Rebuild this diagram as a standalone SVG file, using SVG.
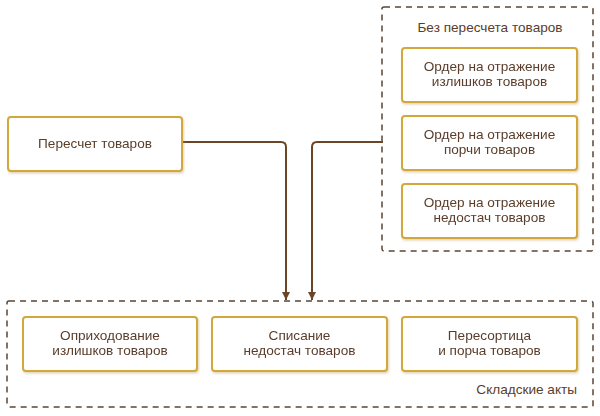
<svg xmlns="http://www.w3.org/2000/svg" width="600" height="416" viewBox="0 0 600 416">
<defs>
<style>
.node rect{fill:#fff;stroke:#d2a73a;stroke-width:2;}
.t{font-family:"Liberation Sans",Arial,sans-serif;font-size:13.6px;fill:#5a3d2b;text-anchor:middle;}
.grp{fill:none;stroke:#5a4535;stroke-width:1.5;stroke-dasharray:6 5;}
.lbl{font-family:"Liberation Sans",Arial,sans-serif;font-size:13.6px;fill:#5a3d2b;}
.conn{fill:none;stroke:#6b4526;stroke-width:2;}
</style>
<filter id="sh" x="-10%" y="-20%" width="120%" height="140%">
<feDropShadow dx="1" dy="1.5" stdDeviation="1.2" flood-color="#b89a60" flood-opacity="0.45"/>
</filter>
<marker id="ar" markerWidth="10" markerHeight="10" refX="8" refY="5" orient="auto" markerUnits="userSpaceOnUse" viewBox="0 0 10 10">
<path d="M0,1 L8,5 L0,9 Z" fill="#6b4526"/>
</marker>
</defs>
<rect width="600" height="416" fill="#fff"/>
<g id="group-top">
<rect class="grp" x="382" y="7" width="211" height="244" rx="2"/>
<text class="lbl" x="490" y="32" text-anchor="middle">Без пересчета товаров</text>
</g>
<g id="group-bottom">
<rect class="grp" x="7" y="301" width="586" height="106" rx="2"/>
<text class="lbl" x="577" y="394" text-anchor="end">Складские акты</text>
</g>
<g id="connectors">
<path class="conn" d="M182,142 H281 Q286,142 286,147 V300" marker-end="url(#ar)"/>
<path class="conn" d="M383,142 H317 Q312,142 312,147 V300" marker-end="url(#ar)"/>
</g>
<g id="n-recount" class="node" filter="url(#sh)">
<rect x="8" y="117" width="174" height="54" rx="3"/>
<text class="t" x="95" y="148">Пересчет товаров</text>
</g>
<g id="n-order1" class="node" filter="url(#sh)">
<rect x="402" y="48" width="175" height="54" rx="3"/>
<text class="t" x="489.5" y="71">Ордер на отражение</text>
<text class="t" x="489.5" y="86">излишков товаров</text>
</g>
<g id="n-order2" class="node" filter="url(#sh)">
<rect x="402" y="116" width="175" height="54" rx="3"/>
<text class="t" x="489.5" y="139">Ордер на отражение</text>
<text class="t" x="489.5" y="154">порчи товаров</text>
</g>
<g id="n-order3" class="node" filter="url(#sh)">
<rect x="402" y="184" width="175" height="54" rx="3"/>
<text class="t" x="489.5" y="207">Ордер на отражение</text>
<text class="t" x="489.5" y="222">недостач товаров</text>
</g>
<g id="n-surplus" class="node" filter="url(#sh)">
<rect x="23" y="317" width="174" height="54" rx="3"/>
<text class="t" x="110" y="340">Оприходование</text>
<text class="t" x="110" y="355">излишков товаров</text>
</g>
<g id="n-writeoff" class="node" filter="url(#sh)">
<rect x="212" y="317" width="175" height="54" rx="3"/>
<text class="t" x="299.5" y="340">Списание</text>
<text class="t" x="299.5" y="355">недостач товаров</text>
</g>
<g id="n-regrade" class="node" filter="url(#sh)">
<rect x="402" y="317" width="175" height="54" rx="3"/>
<text class="t" x="489.5" y="340">Пересортица</text>
<text class="t" x="489.5" y="355">и порча товаров</text>
</g>
</svg>
